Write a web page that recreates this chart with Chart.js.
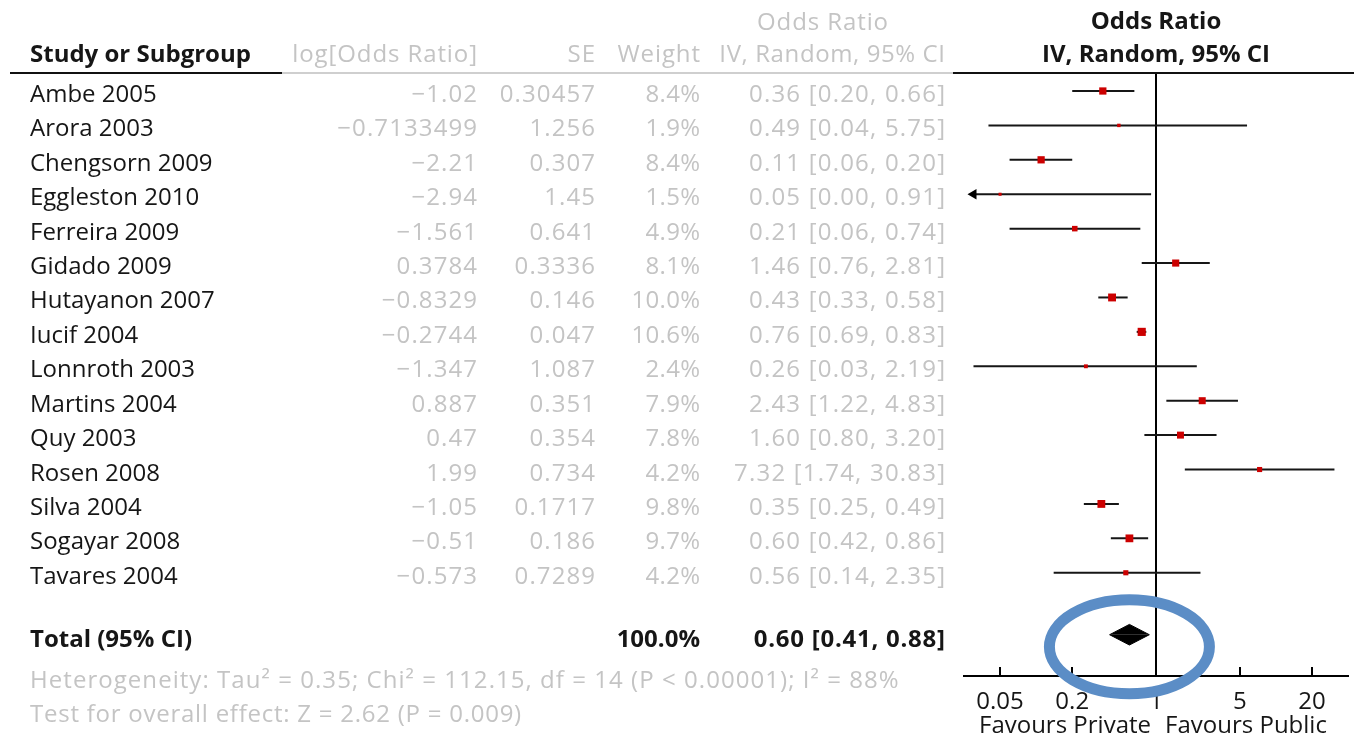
<!DOCTYPE html>
<html>
<head>
<meta charset="utf-8">
<title>Forest plot – Odds Ratio, IV, Random, 95% CI</title>
<script src="https://cdn.jsdelivr.net/npm/chart.js@4/dist/chart.umd.min.js"></script>
<style>
  html, body { margin: 0; padding: 0; background: #ffffff; }
  #wrap { width: 1354px; height: 737px; position: relative; }
</style>
</head>
<body>
<div id="wrap"><canvas id="forest" width="1354" height="737"></canvas></div>
<script>
// ---- study data ----
const studies = ["Ambe 2005", "Arora 2003", "Chengsorn 2009", "Eggleston 2010", "Ferreira 2009",
  "Gidado 2009", "Hutayanon 2007", "Iucif 2004", "Lonnroth 2003", "Martins 2004", "Quy 2003",
  "Rosen 2008", "Silva 2004", "Sogayar 2008", "Tavares 2004"];
const logOR = ["-1.02", "-0.7133499", "-2.21", "-2.94", "-1.561", "0.3784", "-0.8329", "-0.2744",
  "-1.347", "0.887", "0.47", "1.99", "-1.05", "-0.51", "-0.573"];
const se = ["0.30457", "1.256", "0.307", "1.45", "0.641", "0.3336", "0.146", "0.047", "1.087",
  "0.351", "0.354", "0.734", "0.1717", "0.186", "0.7289"];
const weight = [8.4, 1.9, 8.4, 1.5, 4.9, 8.1, 10.0, 10.6, 2.4, 7.9, 7.8, 4.2, 9.8, 9.7, 4.2];
const oddsRatio = [0.36, 0.49, 0.11, 0.05, 0.21, 1.46, 0.43, 0.76, 0.26, 2.43, 1.60, 7.32, 0.35, 0.60, 0.56];
const ciLow = [0.20, 0.04, 0.06, 0.00, 0.06, 0.76, 0.33, 0.69, 0.03, 1.22, 0.80, 1.74, 0.25, 0.42, 0.14];
const ciHigh = [0.66, 5.75, 0.20, 0.91, 0.74, 2.81, 0.58, 0.83, 2.19, 4.83, 3.20, 30.83, 0.49, 0.86, 2.35];

// ---- pooled estimate ----
const totalOR = 0.60;
const totalLow = 0.41;
const totalHigh = 0.88;
const totalWeight = 100.0;

// ---- axis ----
const axisMin = 0.025;
const axisMax = 40;
const tickValues = [0.05, 0.2, 1, 5, 20];
const tickLabels = ["0.05", "0.2", "1", "5", "20"];

// row positions (category index on the y axis)
const totalRow = 15.8;
const yTop = -0.523;
const yBottom = 17.0;

const FONT = "'Open Sans', 'Noto Sans', sans-serif";
const GREY = "#c4c4c4";
const INK = "#161616";

const fmtSigned = s => s.replace("-", "\u2212");
const fmtCI = (or, lo, hi) => `${or.toFixed(2)} [${lo.toFixed(2)}, ${hi.toFixed(2)}]`;

// ---- datasets ----
const datasets = [];

// line of no effect
datasets.push({
  type: "line", data: [{x: 1, y: yTop}, {x: 1, y: yBottom}],
  borderColor: "#000", borderWidth: 2, pointRadius: 0, fill: false, order: 5
});

// confidence interval whiskers
studies.forEach((name, i) => {
  datasets.push({
    type: "line", label: name,
    data: [{x: Math.max(ciLow[i], 0.03), y: i}, {x: ciHigh[i], y: i}],
    borderColor: INK, borderWidth: 2, pointRadius: 0, fill: false, order: 4
  });
});

// arrow for intervals running past the left edge
const clippedRows = studies.map((_, i) => i).filter(i => ciLow[i] < axisMin);
datasets.push({
  type: "scatter", data: clippedRows.map(i => ({x: 0.03, y: i})),
  pointStyle: "triangle", rotation: 270, pointRadius: 6,
  backgroundColor: "#000", borderColor: "#000", borderWidth: 0, order: 3
});

// point estimates, square area proportional to weight
datasets.push({
  type: "scatter", data: oddsRatio.map((v, i) => ({x: v, y: i})),
  pointStyle: "rect",
  pointRadius: weight.map(w => 2.5 * Math.sqrt(w) / Math.SQRT2),
  backgroundColor: "#cc0000", borderWidth: 0, order: 1
});

// pooled diamond: upper and lower halves
const halfH = 0.3;
datasets.push({
  type: "line",
  data: [{x: totalLow, y: totalRow}, {x: totalOR, y: totalRow - halfH}, {x: totalHigh, y: totalRow}],
  borderColor: "#000", borderWidth: 1, backgroundColor: "#000",
  pointRadius: 0, tension: 0, fill: {value: totalRow}, order: 2
});
datasets.push({
  type: "line",
  data: [{x: totalLow, y: totalRow}, {x: totalOR, y: totalRow + halfH}, {x: totalHigh, y: totalRow}],
  borderColor: "#000", borderWidth: 1, backgroundColor: "#000",
  pointRadius: 0, tension: 0, fill: {value: totalRow}, order: 2
});

// ---- table text, header rules, tick marks, annotation ----
const tablePlugin = {
  id: "forestTable",
  afterDraw(chart) {
    const {ctx, chartArea} = chart;
    const xs = chart.scales.x, ys = chart.scales.y;
    ctx.save();

    // header rule
    const ruleY = chartArea.top;
    ctx.lineWidth = 2;
    ctx.strokeStyle = "#111";
    ctx.beginPath(); ctx.moveTo(10, ruleY); ctx.lineTo(282, ruleY); ctx.stroke();
    ctx.strokeStyle = "#cfcfcf";
    ctx.beginPath(); ctx.moveTo(282, ruleY); ctx.lineTo(953, ruleY); ctx.stroke();
    ctx.strokeStyle = "#111";
    ctx.beginPath(); ctx.moveTo(953, ruleY); ctx.lineTo(chart.width, ruleY); ctx.stroke();

    // upward tick marks on the x axis
    ctx.strokeStyle = "#000";
    ctx.lineWidth = 2;
    tickValues.forEach(v => {
      const px = Math.round(xs.getPixelForValue(v));
      ctx.beginPath(); ctx.moveTo(px, chartArea.bottom - 9); ctx.lineTo(px, chartArea.bottom); ctx.stroke();
    });

    const text = (s, x, y, align, color, bold, spacing = 0) => {
      ctx.font = `${bold ? "bold " : ""}24px ${FONT}`;
      ctx.fillStyle = color;
      ctx.textAlign = align;
      ctx.textBaseline = "alphabetic";
      ctx.letterSpacing = spacing + "px";
      ctx.fillText(s, align === "right" ? x + spacing : x, y);
      ctx.letterSpacing = "0px";
    };
    const SP = 1.1;

    // column headings
    text("Study or Subgroup", 30, 62, "left", INK, true);
    text("log[Odds Ratio]", 477, 62, "right", GREY, false, 0.9);
    text("SE", 595, 62, "right", GREY, false, 0.9);
    text("Weight", 700, 62, "right", GREY, false, 0.9);
    text("Odds Ratio", 823, 30, "center", GREY, false, 0.9);
    text("IV, Random, 95% CI", 945, 62, "right", GREY, false, 0.6);
    const midX = xs.getPixelForValue(1);
    text("Odds Ratio", midX, 29, "center", INK, true);
    text("IV, Random, 95% CI", midX, 62, "center", INK, true);

    // study rows
    studies.forEach((name, i) => {
      const y = ys.getPixelForValue(i) + 11;
      text(name, 30, y, "left", INK, false);
      text(fmtSigned(logOR[i]), 477, y, "right", GREY, false, SP);
      text(se[i], 595, y, "right", GREY, false, SP);
      text(weight[i].toFixed(1) + "%", 700, y, "right", GREY, false, 0.3);
      text(fmtCI(oddsRatio[i], ciLow[i], ciHigh[i]), 945, y, "right", GREY, false, 1.2);
    });

    // total row and statistics
    const ty = ys.getPixelForValue(totalRow) + 12;
    text("Total (95% CI)", 30, ty, "left", INK, true);
    text(totalWeight.toFixed(1) + "%", 700, ty, "right", INK, true);
    text(fmtCI(totalOR, totalLow, totalHigh), 945, ty, "right", INK, true, 0.75);
    text("Heterogeneity: Tau\u00b2 = 0.35; Chi\u00b2 = 112.15, df = 14 (P < 0.00001); I\u00b2 = 88%", 30, 688, "left", GREY, false, 1.05);
    text("Test for overall effect: Z = 2.62 (P = 0.009)", 30, 722, "left", GREY, false, 0.75);

    // axis captions
    text("Favours Private", 1065, 733, "center", INK, false);
    text("Favours Public", 1246, 733, "center", INK, false);

    // highlight ring around the pooled estimate
    ctx.strokeStyle = "#5b8dc6";
    ctx.lineWidth = 11;
    ctx.beginPath();
    ctx.ellipse(xs.getPixelForValue(totalOR), ys.getPixelForValue(16.15), 80, 47, 0, 0, Math.PI * 2);
    ctx.stroke();

    ctx.restore();
  }
};

new Chart(document.getElementById("forest"), {
  type: "scatter",
  data: {datasets},
  options: {
    responsive: false,
    animation: false,
    devicePixelRatio: 1,
    layout: {padding: {left: 964, right: 4, top: 73, bottom: 21}},
    plugins: {legend: {display: false}, tooltip: {enabled: false}},
    scales: {
      x: {
        type: "logarithmic",
        min: axisMin, max: axisMax, bounds: "data",
        afterBuildTicks: scale => { scale.ticks = tickValues.map(v => ({value: v})); },
        afterFit: scale => { scale.height = 40; },
        grid: {display: false},
        border: {display: true, color: "#000", width: 2},
        ticks: {
          autoSkip: false, maxRotation: 0, padding: 4,
          color: INK, font: {family: FONT, size: 24},
          callback: v => tickLabels[tickValues.indexOf(v)] ?? ""
        }
      },
      y: {
        type: "linear", min: yTop, max: yBottom, reverse: true, display: false
      }
    }
  },
  plugins: [tablePlugin]
});
</script>
</body>
</html>
